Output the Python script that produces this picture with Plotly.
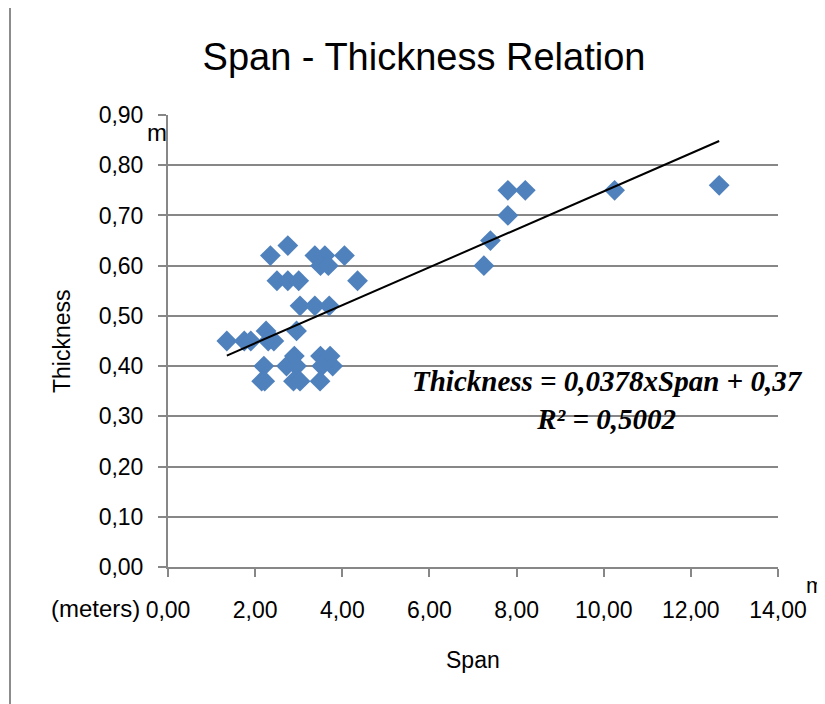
import plotly.graph_objects as go

# span (m) and thickness (m)
span = [1.35, 1.75, 1.90, 2.25, 2.30, 2.43, 2.95,
        2.20, 2.15, 2.22, 2.72, 2.90, 2.95, 2.88, 3.03,
        3.50, 3.72, 3.78, 3.53, 3.49,
        3.03, 3.37, 3.70,
        2.50, 2.75, 3.00, 4.35,
        2.35, 2.75, 3.37, 3.60, 3.50, 3.68, 4.05,
        7.25, 7.40, 7.80, 7.80, 8.20, 10.25, 12.65]
thickness = [0.45, 0.45, 0.45, 0.47, 0.45, 0.45, 0.47,
             0.40, 0.37, 0.37, 0.40, 0.42, 0.40, 0.37, 0.37,
             0.42, 0.42, 0.40, 0.40, 0.37,
             0.52, 0.52, 0.52,
             0.57, 0.57, 0.57, 0.57,
             0.62, 0.64, 0.62, 0.62, 0.60, 0.60, 0.62,
             0.60, 0.65, 0.70, 0.75, 0.75, 0.75, 0.76]

slope = 0.0378
intercept = 0.37
r_squared = "0,5002"

x_ticks = [0, 2, 4, 6, 8, 10, 12, 14]
y_ticks = [0, 0.1, 0.2, 0.3, 0.4, 0.5, 0.6, 0.7, 0.8, 0.9]

# page body has an 8px margin, so the figure is drawn a bit smaller
OFF = 8
W, H = 825 - OFF, 704 - OFF
L, R, T = 168 - OFF, 47, 115 - OFF
B = H - T - 452

blue = '#4F81BD'
grid = '#878787'
sans = 'Liberation Sans'

fig = go.Figure()

fig.add_trace(go.Scatter(
    x=span, y=thickness, mode='markers',
    marker=dict(symbol='diamond', size=16, color=blue, line=dict(width=0)),
    showlegend=False, hoverinfo='x+y'))

x0, x1 = min(span), max(span)
fig.add_trace(go.Scatter(
    x=[x0, x1], y=[slope * x0 + intercept, slope * x1 + intercept],
    mode='lines', line=dict(color='black', width=2),
    showlegend=False, hoverinfo='skip'))

fig.update_layout(
    width=W, height=H,
    margin=dict(l=L, r=R, t=T, b=B),
    paper_bgcolor='white', plot_bgcolor='white',
    separators=',.',
    font=dict(family=sans, size=23, color='black'),
    title=dict(text='Span - Thickness Relation', xref='container', yref='container',
               x=(424 - OFF) / W, y=1 - (57 - OFF) / H, xanchor='center', yanchor='middle',
               font=dict(family=sans, size=38, color='black')),
)

fig.update_xaxes(range=[0, 14], tickvals=x_ticks, tickformat='.2f',
                 showgrid=False, zeroline=False,
                 showline=True, linecolor=grid, linewidth=2,
                 ticks='outside', ticklen=8, tickcolor=grid, tickwidth=2,
                 ticklabelstandoff=13)
fig.update_yaxes(range=[0, 0.9], tickvals=y_ticks, tickformat='.2f',
                 showgrid=True, gridcolor=grid, gridwidth=1.5, zeroline=False,
                 showline=True, linecolor=grid, linewidth=2,
                 ticks='outside', ticklen=8, tickcolor=grid, tickwidth=2,
                 ticklabelstandoff=10)

pw = W - L - R
ph = H - T - B


def px(x):
    # screen pixel -> paper x
    return (x - OFF - L) / pw


def py(y):
    # screen pixel -> paper y
    return 1 - (y - OFF - T) / ph


# outer chart frame (left edge visible)
fig.add_shape(type='rect', xref='paper', yref='paper',
              x0=px(10), x1=px(900), y0=py(760), y1=py(-40),
              line=dict(color='#8c8c8c', width=2), layer='below')

notes = [
    dict(text='Thickness', x=px(62), y=py(341), textangle=-90, font=dict(size=23)),
    dict(text='Span', x=px(473), y=py(660), font=dict(size=23)),
    dict(text='(meters)', x=px(95), y=py(608), font=dict(size=24)),
    dict(text='m', x=px(157), y=py(133), font=dict(size=24)),
    dict(text='m', x=px(804), y=py(585), xanchor='left', font=dict(size=22)),
    dict(text=f'<b><i>Thickness = {str(slope).replace(".", ",")}xSpan + {str(intercept).replace(".", ",")}'
              f'<br>R² = {r_squared}</i></b>',
         x=px(607), y=py(400), align='center',
         font=dict(family='Liberation Serif', size=29, color='black')),
]
for n in notes:
    n.setdefault('xanchor', 'center')
    fig.add_annotation(xref='paper', yref='paper', showarrow=False, yanchor='middle', **n)

fig.write_html('out.html')
